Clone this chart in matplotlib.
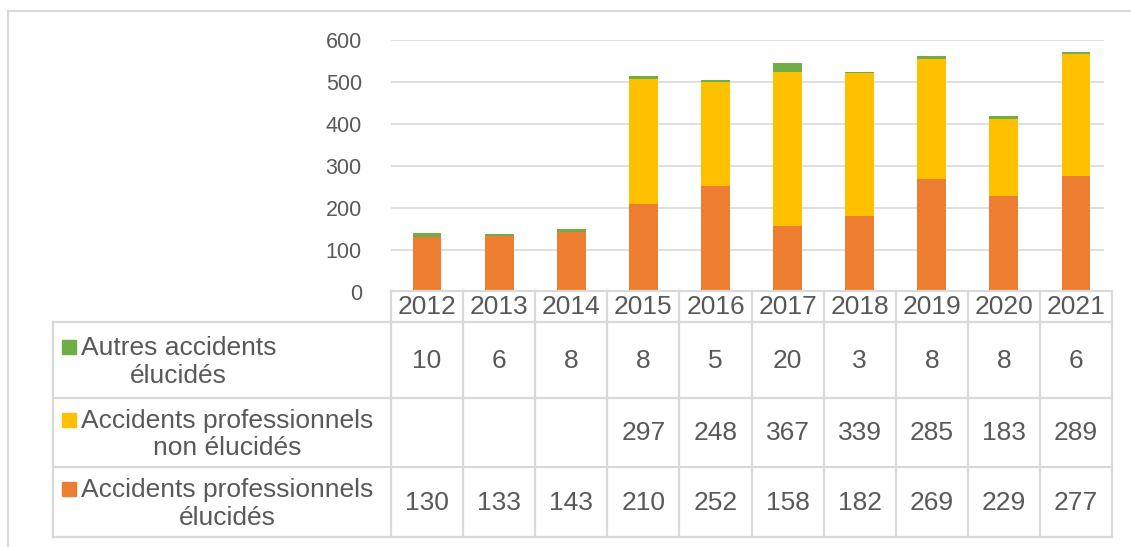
import numpy as np
import matplotlib
matplotlib.use("Agg")
import matplotlib.pyplot as plt
from matplotlib.patches import Rectangle
from matplotlib.lines import Line2D

years = ["2012", "2013", "2014", "2015", "2016", "2017", "2018", "2019", "2020", "2021"]
elucides = [130, 133, 143, 210, 252, 158, 182, 269, 229, 277]
non_elucides = [None, None, None, 297, 248, 367, 339, 285, 183, 289]
autres = [10, 6, 8, 8, 5, 20, 3, 8, 8, 6]
series_names = ["Autres accidents\nélucidés",
                "Accidents professionnels\nnon élucidés",
                "Accidents professionnels\nélucidés"]
yticks = [0, 100, 200, 300, 400, 500, 600]

C_GREEN = "#70AD47"
C_YELLOW = "#FFC000"
C_ORANGE = "#ED7D31"
TXT = "#595959"
GRID = "#D9D9D9"

W, H = 1131, 547
fig = plt.figure(figsize=(W / 100, H / 100), dpi=100)
plt.rcParams['font.family'] = ['Liberation Sans', 'DejaVu Sans']

def fx(px):
    return px / W

def fy(py):
    return 1 - py / H

# layout in pixels
PL, PR = 391, 1112
PT, PB = 40, 292
TL = 53
ROWS = [291, 322, 398, 467, 537]

ax = fig.add_axes([fx(PL), fy(PB), fx(PR) - fx(PL), fy(PT) - fy(PB)])
n = len(years)
x = np.arange(n)
e = np.array(elucides, float)
ne = np.array([np.nan if v is None else v for v in non_elucides], float)
ne0 = np.nan_to_num(ne)
a = np.array(autres, float)
bw = 0.40
ax.bar(x, e, bw, color=C_ORANGE, zorder=3)
ax.bar(x, ne0, bw, bottom=e, color=C_YELLOW, zorder=3)
ax.bar(x, a, bw, bottom=e + ne0, color=C_GREEN, zorder=3)
ax.set_xlim(-0.5, n - 0.5)
ax.set_ylim(0, 600)
ax.set_yticks(yticks)
ax.set_yticklabels([str(t) for t in yticks], fontsize=15.5, color=TXT)
ax.tick_params(axis='y', length=0, pad=21)
ax.set_xticks([])
for t in yticks:
    ax.plot([-0.5, n - 0.62], [t, t], color=GRID, lw=1.2, zorder=0)
for s in ax.spines.values():
    s.set_visible(False)

# table drawn in pixel coordinates on an overlay axes
tax = fig.add_axes([0, 0, 1, 1])
tax.set_xlim(0, W)
tax.set_ylim(H, 0)
tax.axis('off')
tax.patch.set_alpha(0)

colw = (PR - PL) / n
lw = 1.6
# horizontal lines
tax.add_line(Line2D([PL, PR], [ROWS[0], ROWS[0]], color=GRID, lw=lw))
for yy in ROWS[1:]:
    tax.add_line(Line2D([TL, PR], [yy, yy], color=GRID, lw=lw))
# vertical lines
tax.add_line(Line2D([TL, TL], [ROWS[1], ROWS[-1]], color=GRID, lw=lw))
for i in range(n + 1):
    xx = PL + i * colw
    tax.add_line(Line2D([xx, xx], [ROWS[0], ROWS[-1]], color=GRID, lw=lw))

fs = 19
for i, yr in enumerate(years):
    cx = PL + (i + 0.5) * colw
    tax.text(cx, (ROWS[0] + ROWS[1]) / 2 + 1, yr, ha='center', va='center',
             fontsize=fs, color=TXT)

rows_data = [autres, non_elucides, elucides]
row_colors = [C_GREEN, C_YELLOW, C_ORANGE]
for r, (vals, col, name) in enumerate(zip(rows_data, row_colors, series_names)):
    cy = (ROWS[r + 1] + ROWS[r + 2]) / 2
    for i, v in enumerate(vals):
        if v is None:
            continue
        cx = PL + (i + 0.5) * colw
        tax.text(cx, cy + 1, str(v), ha='center', va='center', fontsize=fs, color=TXT)
    tax.add_patch(Rectangle((62, cy - 20), 14, 14, color=col))
    tax.text(81, cy + 2, name, ha='left', va='center', multialignment='center',
             fontsize=fs, color=TXT, linespacing=1.18)

# outer chart border
tax.add_line(Line2D([8, W], [11, 11], color=GRID, lw=1.5))
tax.add_line(Line2D([8, 8], [11, H], color=GRID, lw=1.5))

fig.savefig("out.png", dpi=100)
